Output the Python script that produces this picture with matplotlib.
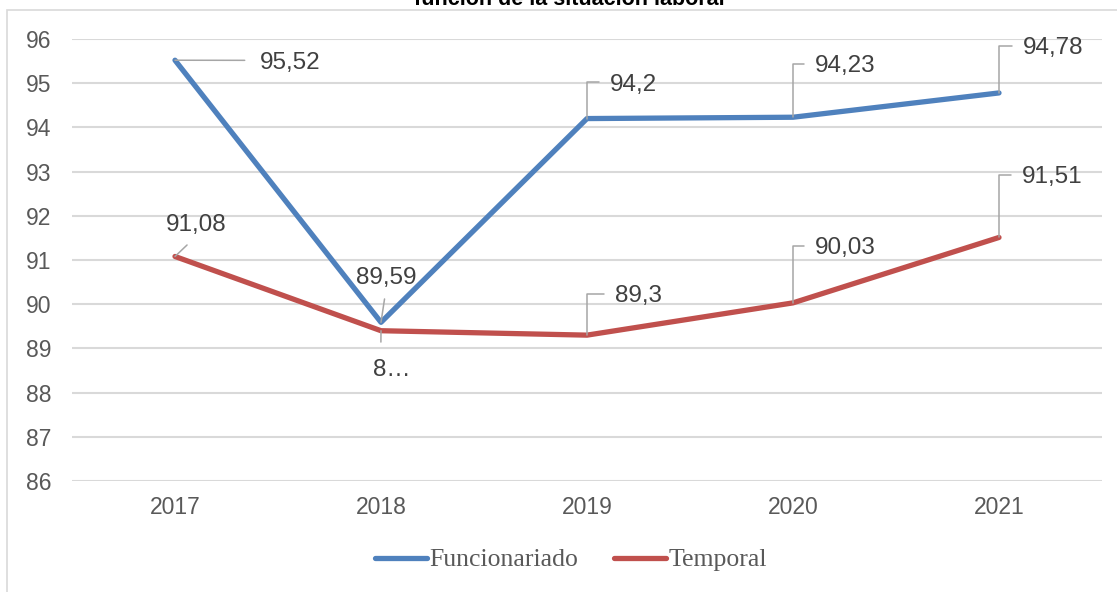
import matplotlib.pyplot as plt
from matplotlib.patches import Rectangle

years = ["2017", "2018", "2019", "2020", "2021"]
funcionariado = [95.52, 89.59, 94.20, 94.23, 94.78]
temporal = [91.08, 89.40, 89.30, 90.03, 91.51]
func_labels = ["95,52", "89,59", "94,2", "94,23", "94,78"]
temp_labels = ["91,08", "8…", "89,3", "90,03", "91,51"]

BLUE = "#4F81BD"
RED = "#C0504D"
GRID = "#D9D9D9"
LEADER = "#A6A6A6"
TEXT = "#404040"
TICK = "#595959"

plt.rcParams["font.family"] = ["Liberation Sans", "DejaVu Sans"]

W, H = 1117, 592
fig = plt.figure(figsize=(W / 100, H / 100), dpi=100)
ax = fig.add_axes([72 / W, 1 - 481 / H, 1030 / W, 442 / H])

x = list(range(len(years)))
ax.plot(x, funcionariado, color=BLUE, lw=3.8, solid_capstyle="round",
        solid_joinstyle="round", label="Funcionariado", zorder=3)
ax.plot(x, temporal, color=RED, lw=3.8, solid_capstyle="round",
        solid_joinstyle="round", label="Temporal", zorder=3)

ax.set_xlim(-0.5, len(years) - 0.5)
ax.set_ylim(86, 96)
ax.set_yticks(range(86, 97))
ax.set_xticks(x)
ax.set_xticklabels(years)
ax.grid(axis="y", color=GRID, lw=1.5, zorder=0)
ax.set_axisbelow(True)
for s in ax.spines.values():
    s.set_visible(False)
ax.tick_params(length=0, labelsize=16.5, labelcolor=TICK)
ax.tick_params(axis="y", pad=15)
ax.tick_params(axis="x", pad=11)

elbow = "angle,angleA=0,angleB=90,rad=0"


def label(xi, yi, txt, dx, dy, ha, relpos, conn="arc3", shrink=4):
    ax.annotate(txt, (xi, yi), xytext=(dx, dy), textcoords="offset pixels",
                ha=ha, va="center", fontsize=17.5, color=TEXT, zorder=4,
                arrowprops=dict(arrowstyle="-", color=LEADER, lw=1.1,
                                connectionstyle=conn, relpos=relpos,
                                shrinkA=shrink, shrinkB=0))


# Funcionariado labels
label(0, funcionariado[0], func_labels[0], 85, -3, "left", (0, 0.63), shrink=9)
label(1, funcionariado[1], func_labels[1], 5, 44, "center", (0.5, 0), shrink=5)
label(2, funcionariado[2], func_labels[2], 23, 34, "left", (0, 0.6), elbow, 6)
label(3, funcionariado[3], func_labels[3], 22, 51, "left", (0, 0.6), elbow, 6)
label(4, funcionariado[4], func_labels[4], 24, 45, "left", (0, 0.6), elbow, 6)

# Temporal labels
label(0, temporal[0], temp_labels[0], 21, 31, "center", (0.5, 0), shrink=6)
label(1, temporal[1], temp_labels[1], 11, -39, "center", (0.2, 1), shrink=10)
label(2, temporal[2], temp_labels[2], 28, 39, "left", (0, 0.6), elbow, 6)
label(3, temporal[3], temp_labels[3], 22, 55, "left", (0, 0.6), elbow, 6)
label(4, temporal[4], temp_labels[4], 23, 60, "left", (0, 0.6), elbow, 6)

leg = fig.legend(loc="center", bbox_to_anchor=(571 / W, 1 - 560 / H), ncol=2,
                 frameon=False, handlelength=2.0, handletextpad=0.1,
                 columnspacing=1.4, prop={"family": "Liberation Serif", "size": 18.5})
for t in leg.get_texts():
    t.set_color(TICK)

# chart area frame (partially outside the image)
fig.patches.append(Rectangle((7 / W, -0.1), 1.2, 1 - 10 / H + 0.1,
                             transform=fig.transFigure, fill=False,
                             edgecolor=GRID, lw=1.2))

# title cut off at the top of the image
fig.text(569 / W, 1 - 5 / H, "función de la situación laboral", ha="center",
         va="baseline", fontsize=15.5, fontweight="bold", color="black")

fig.savefig("out.png", dpi=100)
